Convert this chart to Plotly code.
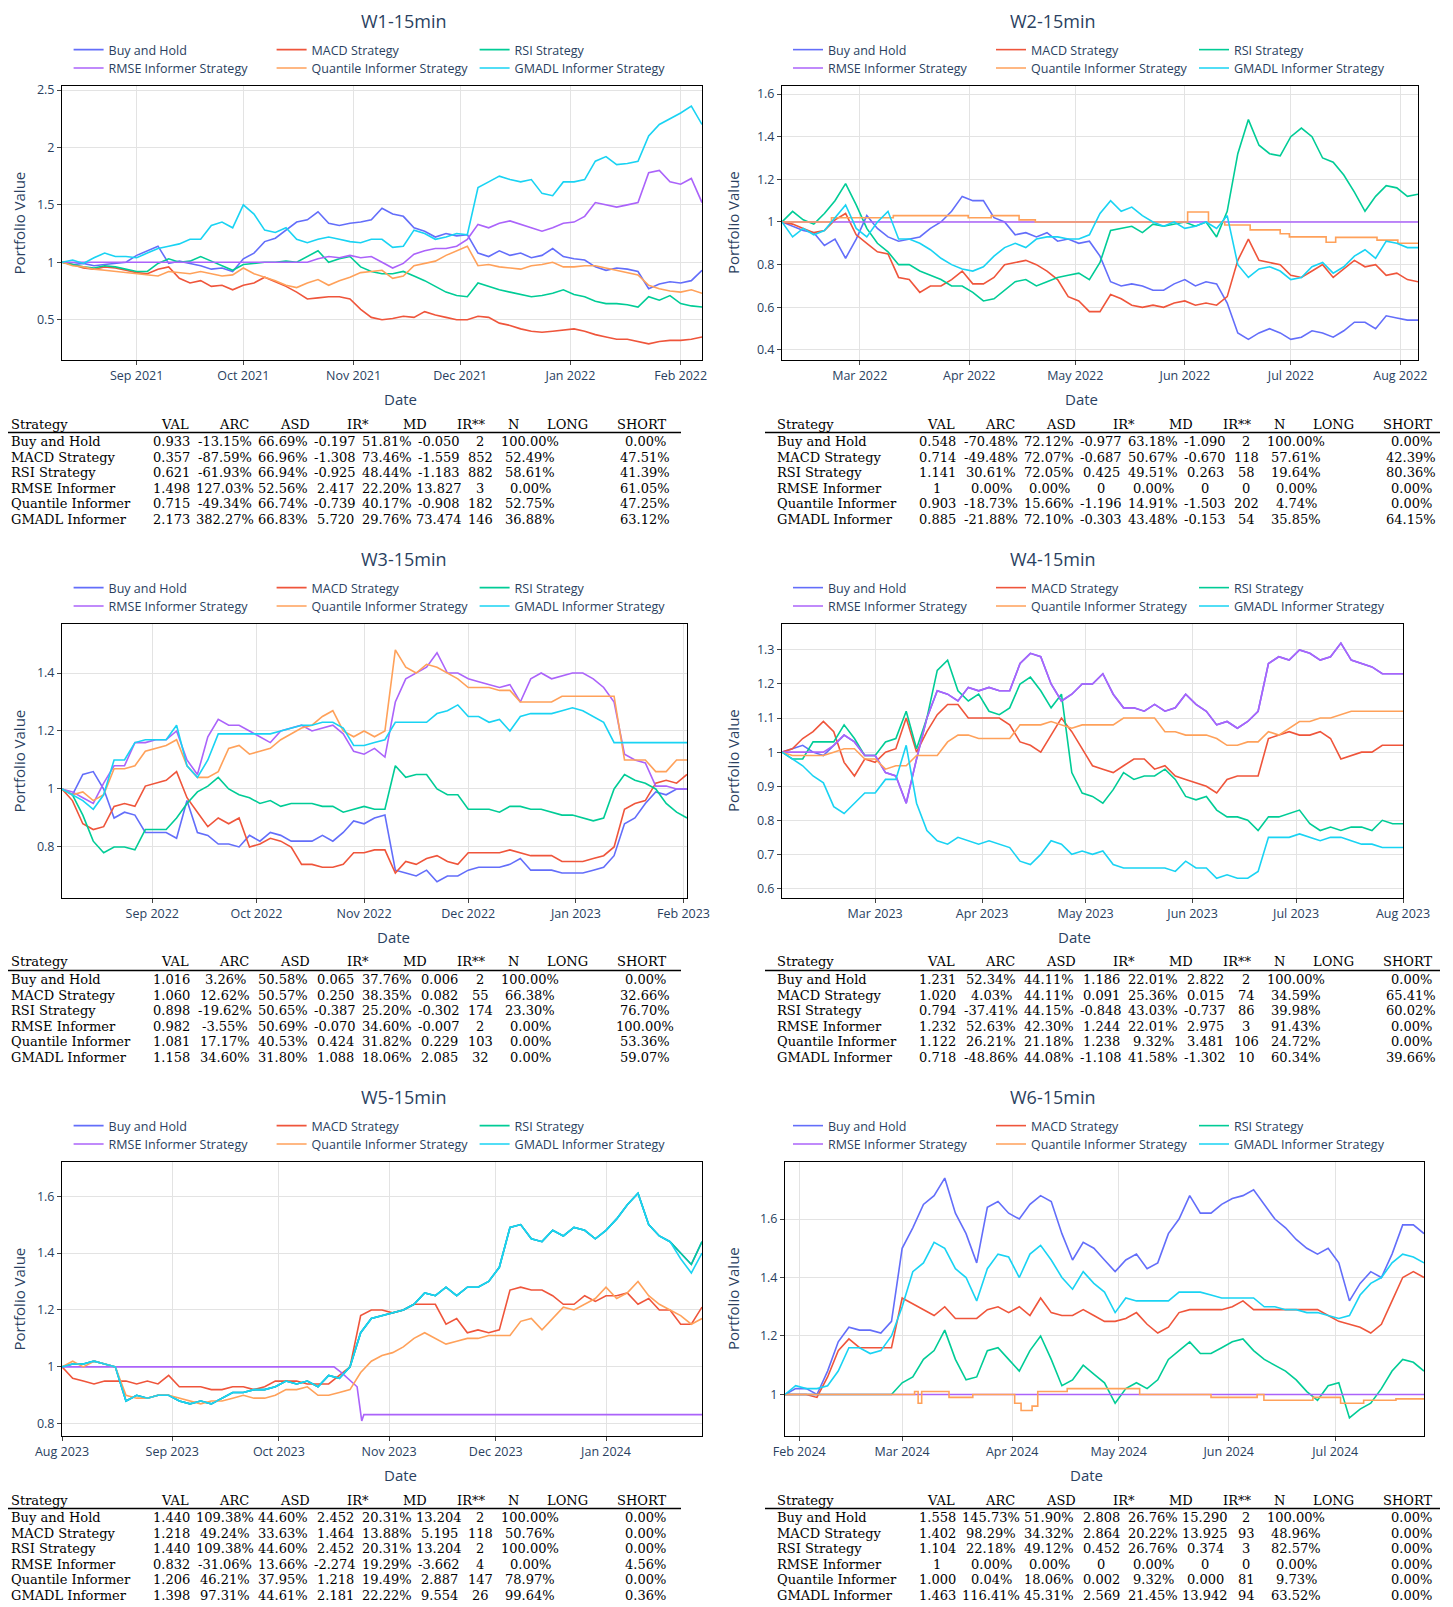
import pandas as pd
import plotly.graph_objects as go

# the page puts an 8px body margin round the figure, so the figure is 8px smaller
# and every position below is given in page pixels
PAGE_W, PAGE_H = 1453, 1607
OFFSET = 8
W, H = PAGE_W - OFFSET, PAGE_H - OFFSET

STRATEGIES = ["Buy and Hold", "MACD Strategy", "RSI Strategy",
              "RMSE Informer Strategy", "Quantile Informer Strategy", "GMADL Informer Strategy"]
COLORS = ["#636efa", "#EF553B", "#00cc96", "#ab63fa", "#FFA15A", "#19d3f3"]

TITLES = ["W1-15min", "W2-15min", "W3-15min", "W4-15min", "W5-15min", "W6-15min"]
STARTS = ["2021-08-11", "2022-02-07", "2022-08-06", "2023-02-02", "2023-08-01", "2024-01-28"]
SPAN_DAYS = 180
Y_RANGES = [[0.149, 2.535], [0.353, 1.6375], [0.624, 1.569],
            [0.572, 1.376], [0.757, 1.72], [0.858, 1.795]]
Y_DTICK = [0.5, 0.2, 0.2, 0.1, 0.2, 0.2]

# values every 3 days
GRID = list(range(0, 181, 3))

# ---------------- W1 ----------------
W1_BH = [1.00, 0.98, 0.99, 0.97, 0.98, 0.99, 1.00, 1.06, 1.10, 1.14,
         0.99, 1.01, 0.99, 0.97, 0.94, 0.95, 0.92, 1.03, 1.08, 1.18,
         1.21, 1.28, 1.35, 1.37, 1.44, 1.34, 1.32, 1.34, 1.35, 1.37,
         1.47, 1.42, 1.40, 1.30, 1.27, 1.22, 1.25, 1.23, 1.24, 1.08,
         1.05, 1.10, 1.06, 1.08, 1.04, 1.06, 1.12, 1.05, 1.03, 1.02,
         0.96, 0.93, 0.95, 0.94, 0.92, 0.77, 0.81, 0.83, 0.82, 0.84,
         0.93]
W1_MACD = [1.00, 0.98, 0.95, 0.94, 0.96, 0.95, 0.93, 0.91, 0.90, 0.94,
           0.96, 0.86, 0.82, 0.84, 0.79, 0.80, 0.76, 0.80, 0.82, 0.87,
           0.83, 0.79, 0.74, 0.68, 0.69, 0.70, 0.70, 0.68, 0.59, 0.52,
           0.50, 0.51, 0.53, 0.52, 0.57, 0.54, 0.52, 0.50, 0.50, 0.53,
           0.52, 0.47, 0.45, 0.42, 0.40, 0.39, 0.40, 0.41, 0.42, 0.40,
           0.37, 0.35, 0.33, 0.33, 0.31, 0.29, 0.31, 0.32, 0.32, 0.33,
           0.35]
W1_RSI = [1.00, 0.98, 0.96, 0.95, 0.97, 0.96, 0.94, 0.92, 0.92, 0.99,
          1.03, 1.00, 1.01, 1.05, 1.01, 0.97, 0.93, 0.98, 0.99, 1.00,
          1.00, 1.01, 1.00, 1.05, 1.10, 1.00, 1.03, 1.05, 0.96, 0.92,
          0.90, 0.90, 0.92, 0.88, 0.84, 0.79, 0.74, 0.71, 0.70, 0.82,
          0.79, 0.76, 0.74, 0.72, 0.70, 0.71, 0.73, 0.76, 0.72, 0.70,
          0.66, 0.64, 0.64, 0.63, 0.61, 0.70, 0.67, 0.71, 0.64, 0.62,
          0.61]
W1_RMSE = [1.00, 1.00, 1.00, 1.00, 1.00, 1.00, 1.00, 1.00, 1.00, 1.00,
           1.00, 1.00, 1.00, 1.00, 1.00, 1.00, 1.00, 1.00, 1.00, 1.00,
           1.00, 1.00, 1.00, 1.00, 1.03, 1.05, 1.04, 1.06, 1.04, 1.05,
           1.00, 0.95, 0.99, 1.07, 1.10, 1.12, 1.12, 1.14, 1.20, 1.33,
           1.30, 1.34, 1.36, 1.33, 1.30, 1.27, 1.30, 1.34, 1.35, 1.40,
           1.52, 1.50, 1.48, 1.50, 1.52, 1.78, 1.80, 1.70, 1.68, 1.73,
           1.52]
W1_QUANT = [1.00, 0.97, 0.96, 0.94, 0.93, 0.92, 0.91, 0.90, 0.89, 0.88,
            0.92, 0.91, 0.90, 0.92, 0.90, 0.88, 0.89, 0.95, 0.90, 0.87,
            0.84, 0.80, 0.78, 0.82, 0.85, 0.80, 0.84, 0.87, 0.91, 0.92,
            0.93, 0.86, 0.88, 0.97, 0.99, 1.01, 1.06, 1.10, 1.14, 0.97,
            0.98, 0.96, 0.95, 0.94, 0.97, 0.98, 1.00, 0.96, 0.96, 0.97,
            0.97, 0.95, 0.93, 0.91, 0.89, 0.80, 0.77, 0.75, 0.74, 0.76,
            0.73]
W1_GMADL = [1.00, 1.02, 0.99, 1.04, 1.08, 1.05, 1.05, 1.04, 1.08, 1.12,
            1.14, 1.16, 1.20, 1.20, 1.32, 1.35, 1.30, 1.50, 1.42, 1.28,
            1.26, 1.30, 1.20, 1.17, 1.20, 1.22, 1.20, 1.18, 1.17, 1.20,
            1.20, 1.13, 1.14, 1.28, 1.25, 1.20, 1.22, 1.25, 1.24, 1.65,
            1.70, 1.75, 1.72, 1.70, 1.72, 1.60, 1.58, 1.70, 1.70, 1.72,
            1.88, 1.92, 1.85, 1.86, 1.88, 2.10, 2.20, 2.25, 2.30, 2.36,
            2.20]

# ---------------- W2 ----------------
W2_BH = [1.00, 0.98, 0.96, 0.95, 0.89, 0.92, 0.83, 0.92, 1.03, 0.97,
         0.93, 0.91, 0.92, 0.93, 0.97, 1.00, 1.05, 1.12, 1.10, 1.10,
         1.02, 1.00, 0.94, 0.95, 0.93, 0.95, 0.91, 0.92, 0.90, 0.91,
         0.84, 0.72, 0.70, 0.71, 0.70, 0.68, 0.68, 0.71, 0.73, 0.70,
         0.72, 0.71, 0.62, 0.48, 0.45, 0.48, 0.50, 0.48, 0.45, 0.46,
         0.49, 0.48, 0.46, 0.49, 0.53, 0.53, 0.50, 0.56, 0.55, 0.54,
         0.54]
W2_MACD = [1.00, 0.99, 0.97, 0.95, 0.96, 1.01, 1.04, 0.94, 0.90, 0.86,
           0.85, 0.74, 0.73, 0.67, 0.70, 0.70, 0.73, 0.77, 0.71, 0.71,
           0.74, 0.80, 0.81, 0.82, 0.80, 0.77, 0.73, 0.65, 0.63, 0.58,
           0.58, 0.66, 0.64, 0.61, 0.60, 0.61, 0.60, 0.62, 0.63, 0.61,
           0.62, 0.61, 0.65, 0.82, 0.92, 0.82, 0.81, 0.80, 0.75, 0.74,
           0.77, 0.80, 0.74, 0.78, 0.82, 0.79, 0.80, 0.75, 0.76, 0.73,
           0.72]
W2_RSI = [1.00, 1.05, 1.01, 0.99, 1.04, 1.10, 1.18, 1.08, 0.97, 0.90,
          0.86, 0.80, 0.80, 0.77, 0.75, 0.73, 0.70, 0.70, 0.67, 0.63,
          0.64, 0.68, 0.72, 0.73, 0.70, 0.72, 0.74, 0.75, 0.76, 0.73,
          0.81, 0.96, 0.97, 0.98, 0.95, 0.99, 0.98, 0.99, 1.00, 0.98,
          1.00, 0.93, 1.05, 1.32, 1.48, 1.36, 1.32, 1.31, 1.40, 1.44,
          1.40, 1.30, 1.28, 1.22, 1.14, 1.05, 1.12, 1.17, 1.16, 1.12,
          1.13]
W2_RMSE_DAYS = [0, 180]
W2_RMSE = [1.0, 1.0]
W2_QUANT_DAYS = [0, 14, 31.5, 52.7, 59.2, 67.1, 71.7, 114.8, 120.7, 125.3,
                 132.5, 141, 143.6, 154, 156.7, 168.4, 174.3, 180]
W2_QUANT = [1.0, 1.02, 1.03, 1.02, 1.03, 1.01, 1.0, 1.047, 1.0, 0.986,
            0.963, 0.945, 0.93, 0.905, 0.928, 0.915, 0.90, 0.90]
W2_GMADL = [1.00, 0.93, 0.97, 0.94, 0.96, 1.02, 1.08, 0.97, 0.93, 1.00,
            1.05, 0.92, 0.92, 0.90, 0.87, 0.83, 0.80, 0.78, 0.77, 0.79,
            0.84, 0.88, 0.90, 0.88, 0.92, 0.93, 0.93, 0.92, 0.92, 0.94,
            1.04, 1.10, 1.05, 1.07, 1.03, 1.00, 0.98, 1.00, 0.97, 0.98,
            1.00, 0.97, 1.03, 0.80, 0.74, 0.78, 0.79, 0.77, 0.73, 0.74,
            0.79, 0.81, 0.76, 0.79, 0.84, 0.87, 0.83, 0.91, 0.90, 0.88,
            0.88]

# ---------------- W3 ----------------
W3_BH = [1.00, 0.98, 1.05, 1.06, 1.00, 0.90, 0.92, 0.91, 0.85, 0.85,
         0.85, 0.83, 0.96, 0.85, 0.84, 0.81, 0.81, 0.80, 0.84, 0.82,
         0.85, 0.84, 0.82, 0.82, 0.82, 0.84, 0.82, 0.85, 0.89, 0.88,
         0.90, 0.91, 0.72, 0.71, 0.70, 0.72, 0.68, 0.70, 0.70, 0.72,
         0.73, 0.73, 0.73, 0.74, 0.76, 0.72, 0.72, 0.72, 0.71, 0.71,
         0.71, 0.72, 0.73, 0.77, 0.88, 0.90, 0.95, 0.99, 0.98, 1.00,
         1.00]
W3_MACD = [1.00, 0.96, 0.88, 0.86, 0.87, 0.94, 0.95, 0.94, 1.01, 1.02,
           1.03, 1.06, 0.97, 0.92, 0.87, 0.90, 0.88, 0.90, 0.80, 0.81,
           0.83, 0.82, 0.80, 0.74, 0.74, 0.73, 0.73, 0.74, 0.78, 0.78,
           0.79, 0.79, 0.71, 0.75, 0.74, 0.76, 0.77, 0.75, 0.74, 0.78,
           0.78, 0.78, 0.78, 0.79, 0.78, 0.77, 0.77, 0.77, 0.75, 0.75,
           0.75, 0.76, 0.77, 0.80, 0.93, 0.95, 0.96, 1.02, 1.03, 1.02,
           1.05]
W3_RSI = [1.00, 0.98, 0.91, 0.82, 0.78, 0.80, 0.80, 0.79, 0.86, 0.86,
          0.86, 0.90, 0.95, 0.99, 1.01, 1.04, 1.00, 0.98, 0.97, 0.95,
          0.96, 0.94, 0.95, 0.95, 0.95, 0.94, 0.94, 0.92, 0.93, 0.94,
          0.93, 0.93, 1.08, 1.04, 1.05, 1.05, 1.00, 0.98, 0.98, 0.93,
          0.93, 0.93, 0.92, 0.94, 0.94, 0.93, 0.93, 0.92, 0.91, 0.91,
          0.90, 0.89, 0.90, 1.00, 1.05, 1.03, 1.02, 1.00, 0.95, 0.92,
          0.90]
W3_RMSE = [1.00, 0.99, 0.97, 0.95, 1.02, 1.08, 1.08, 1.16, 1.16, 1.17,
           1.17, 1.20, 1.10, 1.05, 1.18, 1.24, 1.22, 1.22, 1.20, 1.18,
           1.16, 1.20, 1.21, 1.22, 1.20, 1.21, 1.22, 1.19, 1.13, 1.12,
           1.14, 1.11, 1.30, 1.38, 1.40, 1.42, 1.47, 1.40, 1.40, 1.38,
           1.37, 1.36, 1.35, 1.36, 1.30, 1.38, 1.40, 1.38, 1.39, 1.40,
           1.40, 1.38, 1.35, 1.30, 1.12, 1.10, 1.09, 1.01, 1.01, 1.00,
           1.00]
W3_QUANT = [1.00, 0.98, 0.99, 0.96, 0.98, 1.07, 1.07, 1.08, 1.13, 1.14,
            1.15, 1.17, 1.08, 1.04, 1.04, 1.06, 1.14, 1.15, 1.12, 1.13,
            1.14, 1.17, 1.19, 1.21, 1.22, 1.25, 1.27, 1.20, 1.18, 1.20,
            1.18, 1.20, 1.48, 1.42, 1.40, 1.43, 1.42, 1.40, 1.38, 1.35,
            1.35, 1.35, 1.34, 1.34, 1.30, 1.30, 1.30, 1.30, 1.32, 1.32,
            1.32, 1.32, 1.32, 1.32, 1.10, 1.10, 1.10, 1.06, 1.06, 1.10,
            1.10]
W3_GMADL = [1.00, 0.98, 0.96, 0.93, 0.98, 1.10, 1.10, 1.16, 1.17, 1.17,
            1.17, 1.22, 1.08, 1.04, 1.10, 1.19, 1.19, 1.19, 1.19, 1.19,
            1.19, 1.20, 1.21, 1.22, 1.22, 1.23, 1.23, 1.21, 1.15, 1.15,
            1.16, 1.17, 1.23, 1.23, 1.23, 1.23, 1.26, 1.27, 1.29, 1.25,
            1.25, 1.23, 1.24, 1.20, 1.25, 1.26, 1.26, 1.26, 1.27, 1.28,
            1.27, 1.25, 1.23, 1.16, 1.16, 1.16, 1.16, 1.16, 1.16, 1.16,
            1.16]

# ---------------- W4 ----------------
W4_RMSE = [1.00, 1.00, 1.00, 1.00, 1.00, 1.02, 1.05, 1.03, 0.99, 0.99,
           0.94, 0.93, 0.85, 0.98, 1.10, 1.18, 1.17, 1.15, 1.19, 1.18,
           1.19, 1.18, 1.18, 1.26, 1.29, 1.28, 1.20, 1.15, 1.17, 1.20,
           1.20, 1.23, 1.17, 1.13, 1.13, 1.12, 1.14, 1.12, 1.13, 1.17,
           1.14, 1.12, 1.08, 1.09, 1.07, 1.09, 1.12, 1.26, 1.28, 1.27,
           1.30, 1.29, 1.27, 1.28, 1.32, 1.27, 1.26, 1.25, 1.23, 1.23,
           1.23]
# buy and hold sits under the RMSE line once that strategy goes long
W4_BH = [1.00, 1.01, 1.02, 1.00, 0.99] + W4_RMSE[5:]
W4_MACD = [1.00, 1.01, 1.04, 1.06, 1.09, 1.06, 0.97, 0.93, 0.98, 0.97,
           1.00, 1.01, 1.10, 1.00, 1.06, 1.11, 1.14, 1.14, 1.10, 1.10,
           1.10, 1.10, 1.08, 1.03, 1.02, 1.00, 1.05, 1.10, 1.06, 1.01,
           0.96, 0.95, 0.94, 0.96, 0.98, 0.98, 0.95, 0.96, 0.93, 0.92,
           0.91, 0.90, 0.88, 0.92, 0.93, 0.93, 0.93, 1.04, 1.05, 1.06,
           1.05, 1.05, 1.06, 1.04, 0.98, 0.99, 1.00, 1.00, 1.02, 1.02,
           1.02]
W4_RSI = [1.00, 0.98, 0.98, 1.03, 1.03, 1.03, 1.08, 1.04, 0.99, 0.99,
          1.03, 1.04, 1.12, 1.01, 1.10, 1.24, 1.27, 1.18, 1.15, 1.17,
          1.12, 1.11, 1.13, 1.20, 1.22, 1.18, 1.13, 1.17, 0.94, 0.88,
          0.87, 0.85, 0.89, 0.94, 0.92, 0.93, 0.93, 0.95, 0.92, 0.87,
          0.86, 0.87, 0.83, 0.81, 0.81, 0.80, 0.77, 0.81, 0.81, 0.82,
          0.83, 0.79, 0.77, 0.78, 0.77, 0.78, 0.78, 0.77, 0.80, 0.79,
          0.79]
W4_QUANT = [1.00, 0.99, 0.99, 0.99, 0.99, 1.00, 1.01, 1.01, 0.98, 0.98,
            0.95, 0.96, 0.96, 0.99, 0.99, 0.99, 1.03, 1.05, 1.05, 1.04,
            1.04, 1.04, 1.04, 1.08, 1.08, 1.08, 1.09, 1.08, 1.07, 1.08,
            1.08, 1.08, 1.08, 1.10, 1.10, 1.10, 1.10, 1.06, 1.06, 1.05,
            1.05, 1.05, 1.04, 1.02, 1.02, 1.03, 1.03, 1.06, 1.05, 1.07,
            1.09, 1.09, 1.10, 1.10, 1.11, 1.12, 1.12, 1.12, 1.12, 1.12,
            1.12]
W4_GMADL = [1.00, 0.98, 0.96, 0.93, 0.91, 0.84, 0.82, 0.85, 0.88, 0.88,
            0.92, 0.92, 1.02, 0.85, 0.77, 0.74, 0.73, 0.75, 0.74, 0.73,
            0.74, 0.73, 0.72, 0.68, 0.67, 0.70, 0.74, 0.73, 0.70, 0.71,
            0.70, 0.71, 0.67, 0.66, 0.66, 0.66, 0.66, 0.66, 0.65, 0.68,
            0.66, 0.66, 0.63, 0.64, 0.63, 0.63, 0.65, 0.75, 0.75, 0.75,
            0.76, 0.75, 0.74, 0.75, 0.75, 0.74, 0.73, 0.73, 0.72, 0.72,
            0.72]

# ---------------- W5 ----------------
W5_BH = [1.00, 1.01, 1.01, 1.02, 1.01, 1.00, 0.88, 0.90, 0.89, 0.90,
         0.90, 0.88, 0.87, 0.88, 0.87, 0.89, 0.91, 0.91, 0.92, 0.92,
         0.93, 0.95, 0.94, 0.95, 0.93, 0.97, 0.96, 1.00, 1.12, 1.17,
         1.18, 1.19, 1.20, 1.22, 1.26, 1.25, 1.28, 1.25, 1.28, 1.28,
         1.30, 1.35, 1.49, 1.50, 1.45, 1.44, 1.48, 1.46, 1.49, 1.48,
         1.45, 1.48, 1.52, 1.57, 1.61, 1.50, 1.46, 1.44, 1.40, 1.36,
         1.44]
W5_RSI = W5_BH  # identical results in the table
W5_MACD = [1.00, 0.96, 0.95, 0.94, 0.95, 0.95, 0.95, 0.94, 0.95, 0.94,
           0.97, 0.93, 0.93, 0.93, 0.92, 0.92, 0.93, 0.93, 0.92, 0.93,
           0.95, 0.95, 0.95, 0.94, 0.94, 0.94, 0.97, 1.00, 1.18, 1.20,
           1.20, 1.19, 1.20, 1.22, 1.22, 1.22, 1.15, 1.17, 1.12, 1.13,
           1.12, 1.13, 1.27, 1.28, 1.27, 1.27, 1.25, 1.22, 1.22, 1.25,
           1.23, 1.25, 1.25, 1.26, 1.22, 1.24, 1.20, 1.20, 1.15, 1.15,
           1.21]
W5_RMSE_DAYS = [0, 76.5, 78.6, 81.2, 83, 84.3, 84.9, 180]
W5_RMSE = [1.0, 1.0, 0.98, 0.95, 0.93, 0.81, 0.832, 0.832]
W5_QUANT = [1.00, 1.02, 1.00, 1.02, 1.01, 1.00, 0.90, 0.89, 0.89, 0.90,
            0.90, 0.89, 0.88, 0.87, 0.88, 0.88, 0.89, 0.90, 0.89, 0.89,
            0.90, 0.92, 0.92, 0.93, 0.90, 0.90, 0.91, 0.92, 0.98, 1.02,
            1.04, 1.05, 1.07, 1.10, 1.12, 1.10, 1.08, 1.09, 1.10, 1.10,
            1.11, 1.11, 1.11, 1.16, 1.17, 1.13, 1.17, 1.21, 1.20, 1.22,
            1.24, 1.28, 1.24, 1.26, 1.30, 1.25, 1.22, 1.20, 1.18, 1.15,
            1.17]
W5_GMADL = [1.00, 1.01, 1.01, 1.02, 1.01, 1.00, 0.88, 0.90, 0.89, 0.90,
            0.90, 0.88, 0.87, 0.88, 0.87, 0.89, 0.91, 0.91, 0.92, 0.92,
            0.93, 0.95, 0.94, 0.95, 0.93, 0.97, 0.96, 1.00, 1.12, 1.17,
            1.18, 1.19, 1.20, 1.22, 1.26, 1.25, 1.28, 1.25, 1.28, 1.28,
            1.30, 1.35, 1.49, 1.50, 1.45, 1.44, 1.48, 1.46, 1.49, 1.48,
            1.45, 1.48, 1.52, 1.57, 1.61, 1.50, 1.46, 1.44, 1.38, 1.33,
            1.40]

# ---------------- W6 ----------------
W6_BH = [1.00, 1.02, 1.02, 1.00, 1.08, 1.18, 1.23, 1.22, 1.22, 1.21,
         1.25, 1.50, 1.57, 1.65, 1.68, 1.74, 1.62, 1.55, 1.45, 1.64,
         1.66, 1.62, 1.60, 1.65, 1.68, 1.66, 1.55, 1.46, 1.52, 1.50,
         1.46, 1.42, 1.46, 1.48, 1.43, 1.45, 1.55, 1.60, 1.68, 1.62,
         1.62, 1.65, 1.67, 1.68, 1.70, 1.65, 1.60, 1.57, 1.53, 1.50,
         1.48, 1.50, 1.45, 1.32, 1.38, 1.42, 1.40, 1.48, 1.58, 1.58,
         1.55]
W6_MACD = [1.00, 1.00, 1.00, 0.99, 1.06, 1.15, 1.19, 1.16, 1.16, 1.16,
           1.16, 1.33, 1.31, 1.29, 1.27, 1.30, 1.26, 1.26, 1.26, 1.29,
           1.30, 1.28, 1.30, 1.27, 1.33, 1.28, 1.27, 1.27, 1.29, 1.27,
           1.25, 1.25, 1.26, 1.28, 1.24, 1.21, 1.23, 1.28, 1.29, 1.29,
           1.29, 1.29, 1.30, 1.32, 1.29, 1.29, 1.29, 1.29, 1.29, 1.29,
           1.29, 1.27, 1.25, 1.24, 1.23, 1.21, 1.24, 1.32, 1.40, 1.42,
           1.40]
W6_RSI = [1.00, 1.00, 1.00, 1.00, 1.00, 1.00, 1.00, 1.00, 1.00, 1.00,
          1.00, 1.04, 1.06, 1.12, 1.15, 1.22, 1.12, 1.05, 1.06, 1.15,
          1.16, 1.12, 1.08, 1.15, 1.20, 1.12, 1.03, 1.05, 1.10, 1.07,
          1.04, 0.97, 1.02, 1.04, 1.02, 1.05, 1.12, 1.15, 1.18, 1.14,
          1.14, 1.16, 1.18, 1.19, 1.15, 1.12, 1.10, 1.08, 1.05, 1.01,
          0.98, 1.03, 1.04, 0.92, 0.95, 0.97, 1.02, 1.08, 1.12, 1.11,
          1.08]
W6_RMSE_DAYS = [0, 180]
W6_RMSE = [1.0, 1.0]
W6_QUANT_DAYS = [0, 36.5, 37.5, 38.5, 46.2, 52.9, 64.7, 66.5, 69.6, 71.2,
                 79.5, 99.9, 120, 133, 134.9, 148.7, 156.5, 163, 172.1, 180]
W6_QUANT = [1.0, 1.01, 0.97, 1.01, 0.99, 1.0, 0.97, 0.945, 0.96, 1.01,
            1.02, 1.0, 0.99, 1.0, 0.98, 0.99, 0.97, 0.98, 0.985, 0.985]
W6_GMADL = [1.00, 1.03, 1.02, 1.02, 1.03, 1.08, 1.16, 1.16, 1.14, 1.15,
            1.20, 1.30, 1.42, 1.45, 1.52, 1.50, 1.43, 1.40, 1.32, 1.43,
            1.48, 1.47, 1.40, 1.48, 1.51, 1.46, 1.40, 1.36, 1.42, 1.38,
            1.35, 1.28, 1.33, 1.32, 1.32, 1.32, 1.32, 1.35, 1.35, 1.35,
            1.34, 1.33, 1.33, 1.33, 1.33, 1.30, 1.30, 1.29, 1.29, 1.28,
            1.28, 1.27, 1.26, 1.27, 1.34, 1.38, 1.40, 1.45, 1.48, 1.47,
            1.45]

# (days, values, line shape) per strategy, per window
SERIES = [
    [(GRID, W1_BH, "linear"), (GRID, W1_MACD, "linear"), (GRID, W1_RSI, "linear"),
     (GRID, W1_RMSE, "linear"), (GRID, W1_QUANT, "linear"), (GRID, W1_GMADL, "linear")],
    [(GRID, W2_BH, "linear"), (GRID, W2_MACD, "linear"), (GRID, W2_RSI, "linear"),
     (W2_RMSE_DAYS, W2_RMSE, "linear"), (W2_QUANT_DAYS, W2_QUANT, "hv"), (GRID, W2_GMADL, "linear")],
    [(GRID, W3_BH, "linear"), (GRID, W3_MACD, "linear"), (GRID, W3_RSI, "linear"),
     (GRID, W3_RMSE, "linear"), (GRID, W3_QUANT, "linear"), (GRID, W3_GMADL, "linear")],
    [(GRID, W4_BH, "linear"), (GRID, W4_MACD, "linear"), (GRID, W4_RSI, "linear"),
     (GRID, W4_RMSE, "linear"), (GRID, W4_QUANT, "linear"), (GRID, W4_GMADL, "linear")],
    [(GRID, W5_BH, "linear"), (GRID, W5_MACD, "linear"), (GRID, W5_RSI, "linear"),
     (W5_RMSE_DAYS, W5_RMSE, "linear"), (GRID, W5_QUANT, "linear"), (GRID, W5_GMADL, "linear")],
    [(GRID, W6_BH, "linear"), (GRID, W6_MACD, "linear"), (GRID, W6_RSI, "linear"),
     (W6_RMSE_DAYS, W6_RMSE, "linear"), (W6_QUANT_DAYS, W6_QUANT, "hv"), (GRID, W6_GMADL, "linear")],
]

# ---------------- tables ----------------
TABLE_HEADER = ["Strategy", "VAL", "ARC", "ASD", "IR*", "MD", "IR**", "N", "LONG", "SHORT"]
TABLE_ROWS = ["Buy and Hold", "MACD Strategy", "RSI Strategy",
              "RMSE Informer", "Quantile Informer", "GMADL Informer"]
W1_STATS = [
    ["0.933", "-13.15%", "66.69%", "-0.197", "51.81%", "-0.050", "2", "100.00%", "0.00%"],
    ["0.357", "-87.59%", "66.96%", "-1.308", "73.46%", "-1.559", "852", "52.49%", "47.51%"],
    ["0.621", "-61.93%", "66.94%", "-0.925", "48.44%", "-1.183", "882", "58.61%", "41.39%"],
    ["1.498", "127.03%", "52.56%", "2.417", "22.20%", "13.827", "3", "0.00%", "61.05%"],
    ["0.715", "-49.34%", "66.74%", "-0.739", "40.17%", "-0.908", "182", "52.75%", "47.25%"],
    ["2.173", "382.27%", "66.83%", "5.720", "29.76%", "73.474", "146", "36.88%", "63.12%"],
]
W2_STATS = [
    ["0.548", "-70.48%", "72.12%", "-0.977", "63.18%", "-1.090", "2", "100.00%", "0.00%"],
    ["0.714", "-49.48%", "72.07%", "-0.687", "50.67%", "-0.670", "118", "57.61%", "42.39%"],
    ["1.141", "30.61%", "72.05%", "0.425", "49.51%", "0.263", "58", "19.64%", "80.36%"],
    ["1", "0.00%", "0.00%", "0", "0.00%", "0", "0", "0.00%", "0.00%"],
    ["0.903", "-18.73%", "15.66%", "-1.196", "14.91%", "-1.503", "202", "4.74%", "0.00%"],
    ["0.885", "-21.88%", "72.10%", "-0.303", "43.48%", "-0.153", "54", "35.85%", "64.15%"],
]
W3_STATS = [
    ["1.016", "3.26%", "50.58%", "0.065", "37.76%", "0.006", "2", "100.00%", "0.00%"],
    ["1.060", "12.62%", "50.57%", "0.250", "38.35%", "0.082", "55", "66.38%", "32.66%"],
    ["0.898", "-19.62%", "50.65%", "-0.387", "25.20%", "-0.302", "174", "23.30%", "76.70%"],
    ["0.982", "-3.55%", "50.69%", "-0.070", "34.60%", "-0.007", "2", "0.00%", "100.00%"],
    ["1.081", "17.17%", "40.53%", "0.424", "31.82%", "0.229", "103", "0.00%", "53.36%"],
    ["1.158", "34.60%", "31.80%", "1.088", "18.06%", "2.085", "32", "0.00%", "59.07%"],
]
W4_STATS = [
    ["1.231", "52.34%", "44.11%", "1.186", "22.01%", "2.822", "2", "100.00%", "0.00%"],
    ["1.020", "4.03%", "44.11%", "0.091", "25.36%", "0.015", "74", "34.59%", "65.41%"],
    ["0.794", "-37.41%", "44.15%", "-0.848", "43.03%", "-0.737", "86", "39.98%", "60.02%"],
    ["1.232", "52.63%", "42.30%", "1.244", "22.01%", "2.975", "3", "91.43%", "0.00%"],
    ["1.122", "26.21%", "21.18%", "1.238", "9.32%", "3.481", "106", "24.72%", "0.00%"],
    ["0.718", "-48.86%", "44.08%", "-1.108", "41.58%", "-1.302", "10", "60.34%", "39.66%"],
]
W5_STATS = [
    ["1.440", "109.38%", "44.60%", "2.452", "20.31%", "13.204", "2", "100.00%", "0.00%"],
    ["1.218", "49.24%", "33.63%", "1.464", "13.88%", "5.195", "118", "50.76%", "0.00%"],
    ["1.440", "109.38%", "44.60%", "2.452", "20.31%", "13.204", "2", "100.00%", "0.00%"],
    ["0.832", "-31.06%", "13.66%", "-2.274", "19.29%", "-3.662", "4", "0.00%", "4.56%"],
    ["1.206", "46.21%", "37.95%", "1.218", "19.49%", "2.887", "147", "78.97%", "0.00%"],
    ["1.398", "97.31%", "44.61%", "2.181", "22.22%", "9.554", "26", "99.64%", "0.36%"],
]
W6_STATS = [
    ["1.558", "145.73%", "51.90%", "2.808", "26.76%", "15.290", "2", "100.00%", "0.00%"],
    ["1.402", "98.29%", "34.32%", "2.864", "20.22%", "13.925", "93", "48.96%", "0.00%"],
    ["1.104", "22.18%", "49.12%", "0.452", "26.76%", "0.374", "3", "82.57%", "0.00%"],
    ["1", "0.00%", "0.00%", "0", "0.00%", "0", "0", "0.00%", "0.00%"],
    ["1.000", "0.04%", "18.06%", "0.002", "9.32%", "0.000", "81", "9.73%", "0.00%"],
    ["1.463", "116.41%", "45.31%", "2.569", "21.45%", "13.942", "94", "63.52%", "0.00%"],
]
STATS = [W1_STATS, W2_STATS, W3_STATS, W4_STATS, W5_STATS, W6_STATS]

# ---------------- layout geometry (page pixels) ----------------
ROW_STEP = 538
PLOT_X = [(62, 702), (782, 1418), (62, 687), (782, 1403), (62, 702), (785, 1424)]
PLOT_TOP = 86
PLOT_BOTTOM = 360
TITLE_X = [359, 1098]
TITLE_Y = 21
LEGEND_X = [68.6, 788]
YTITLE_X = [18.5, 733]
TABLE_DX = [0, 766]
HEADER_X = [8.5, 175, 234, 295, 358, 415, 471, 513, 567, 641]
VALUE_X = [8.5, 171, 225, 283, 335, 387, 439, 480, 530, 645]
RULE_X = [(8, 681), (765, 1440)]
ROW_PITCH = 15.5

TEXT = "#2a3f5f"
SERIF = "DejaVu Serif"


def fx(p):
    return (p - OFFSET) / W


def fy(p):
    return 1 - (p - OFFSET) / H


fig = go.Figure()
annotations = []
shapes = []

for i in range(6):
    r, c = divmod(i, 2)
    oy = ROW_STEP * r
    n = i + 1
    xid = "x" if n == 1 else f"x{n}"
    yid = "y" if n == 1 else f"y{n}"
    leg_a = "legend" if 2 * i + 1 == 1 else f"legend{2 * i + 1}"
    leg_b = f"legend{2 * i + 2}"
    start = pd.Timestamp(STARTS[i])
    end = start + pd.Timedelta(days=SPAN_DAYS)
    left, right = PLOT_X[i]

    for k, (days, vals, shape) in enumerate(SERIES[i]):
        dates = start + pd.to_timedelta(days, unit="D")
        fig.add_trace(go.Scatter(
            x=dates, y=vals, mode="lines", name=STRATEGIES[k],
            line=dict(color=COLORS[k], width=1.6, shape=shape),
            xaxis=xid, yaxis=yid, legend=leg_a if k < 3 else leg_b,
        ))

    axis_common = dict(
        showgrid=True, gridcolor="#e3e3e3", gridwidth=1,
        showline=True, linecolor="black", linewidth=1, mirror=True,
        ticks="outside", ticklen=4, tickcolor="#444",
        tickfont=dict(size=12.5, color=TEXT), zeroline=False, automargin=False,
    )
    fig.update_layout(**{
        ("xaxis" if n == 1 else f"xaxis{n}"): dict(
            domain=[fx(left), fx(right)], anchor=yid,
            type="date", range=[start, end], dtick="M1", tickformat="%b %Y",
            **axis_common),
        ("yaxis" if n == 1 else f"yaxis{n}"): dict(
            domain=[fy(PLOT_BOTTOM + oy), fy(PLOT_TOP + oy)], anchor=xid,
            range=Y_RANGES[i], dtick=Y_DTICK[i], **axis_common),
    })

    for j, leg in enumerate([leg_a, leg_b]):
        fig.update_layout(**{leg: dict(
            orientation="h", xanchor="left", yanchor="middle",
            x=fx(LEGEND_X[c]), y=fy(50 + 18.4 * j + oy),
            entrywidth=158, entrywidthmode="pixels",
            font=dict(size=12.5, color=TEXT), bgcolor="rgba(0,0,0,0)",
        )})

    annotations.append(dict(text=TITLES[i], x=fx(TITLE_X[c]), y=fy(TITLE_Y + oy),
                            xref="paper", yref="paper", showarrow=False,
                            font=dict(size=18, color=TEXT), yanchor="middle"))
    annotations.append(dict(text="Date", x=fx((left + right) / 2), y=fy(399 + oy),
                            xref="paper", yref="paper", showarrow=False,
                            font=dict(size=15, color=TEXT), yanchor="middle"))
    annotations.append(dict(text="Portfolio Value", x=fx(YTITLE_X[c]), y=fy(223 + oy),
                            xref="paper", yref="paper", showarrow=False, textangle=-90,
                            font=dict(size=15, color=TEXT), xanchor="center", yanchor="middle"))

    # statistics table under each chart
    dx = TABLE_DX[c]
    for j, h in enumerate(TABLE_HEADER):
        annotations.append(dict(text=h, x=fx(dx + HEADER_X[j]), y=fy(424 + oy),
                                xref="paper", yref="paper", showarrow=False,
                                xanchor="left" if j == 0 else "center", yanchor="middle",
                                font=dict(family=SERIF, size=13, color="black")))
    shapes.append(dict(type="line", xref="paper", yref="paper",
                       x0=fx(RULE_X[c][0]), x1=fx(RULE_X[c][1]),
                       y0=fy(432.5 + oy), y1=fy(432.5 + oy),
                       line=dict(color="black", width=1.5)))
    for k, (label, row) in enumerate(zip(TABLE_ROWS, STATS[i])):
        yy = fy(441.5 + ROW_PITCH * k + oy)
        annotations.append(dict(text=label, x=fx(dx + VALUE_X[0]), y=yy,
                                xref="paper", yref="paper", showarrow=False,
                                xanchor="left", yanchor="middle",
                                font=dict(family=SERIF, size=13, color="black")))
        for j, v in enumerate(row):
            annotations.append(dict(text=v, x=fx(dx + VALUE_X[j + 1]), y=yy,
                                    xref="paper", yref="paper", showarrow=False,
                                    xanchor="center", yanchor="middle",
                                    font=dict(family=SERIF, size=13, color="black")))

fig.update_layout(
    width=W, height=H, margin=dict(l=0, r=0, t=0, b=0, autoexpand=False),
    paper_bgcolor="white", plot_bgcolor="white",
    font=dict(family="Open Sans, verdana, arial, sans-serif", color=TEXT),
    annotations=annotations, shapes=shapes,
)

fig.write_html("out.html")
